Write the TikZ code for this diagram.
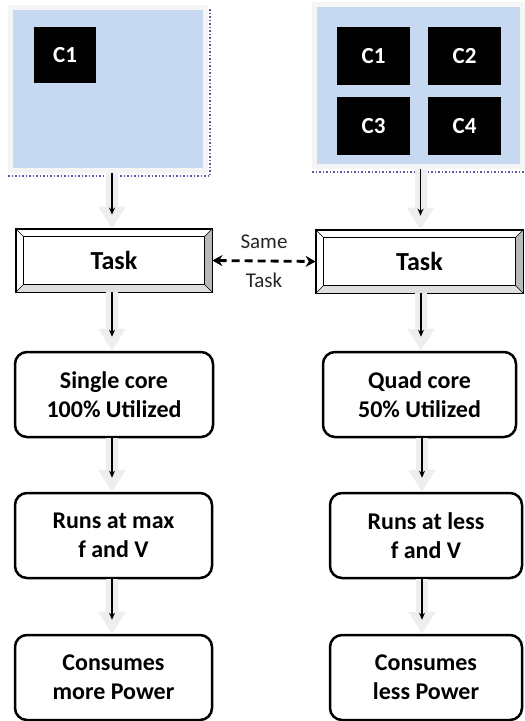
\documentclass[tikz,border=0pt]{standalone}
\usepackage{fontspec}
\setmainfont{Carlito}
\usetikzlibrary{arrows.meta}

\definecolor{chipblue}{RGB}{198,217,240}
\definecolor{arrowgray}{RGB}{238,238,238}

\tikzset{
  chip/.style={fill=chipblue, draw=gray!8, line width=5pt, inner sep=0pt},
  core/.style={fill=black, text=white, inner sep=0pt, font=\fontsize{23}{28}\selectfont\bfseries},
  taskbox/.style={draw=black, line width=0.8pt, minimum width=196pt, minimum height=63pt, inner sep=0pt, font=\fontsize{26}{30}\selectfont\bfseries},
  stepbox/.style={draw=black, line width=2.5pt, rounded corners=12pt, minimum height=85pt, align=center, inner sep=0pt, font=\fontsize{24}{29}\selectfont\bfseries},
  flow/.style={line width=12pt, draw=arrowgray, -{Triangle[width=26pt,length=22pt]},
    postaction={draw=black, line width=1.3pt, -{Stealth[length=7pt,width=6pt]}, shorten >=14pt}}
}

\begin{document}
\begin{tikzpicture}[x=1pt,y=-1pt]
\useasboundingbox (0,0) rectangle (525,721);

% processors
\node[chip, minimum width=195pt, minimum height=163pt] (chipL) at (108,89) {};
\node[chip, minimum width=208pt, minimum height=162pt] (chipR) at (418.5,85.5) {};
\draw[gray!70!blue, dotted, line width=1.5pt] (8,176) -- (210,176) -- (210,8);
\draw[gray!70!blue, dotted, line width=1.5pt] (312,172) -- (525,172);

\node[core, minimum width=62pt, minimum height=56pt] (c1L) at (65,55) {C1};

\node[core, minimum width=73pt, minimum height=58pt] (c1R) at (373.5,56) {C1};
\node[core, minimum width=73pt, minimum height=58pt] (c2R) at (464.5,56) {C2};
\node[core, minimum width=73pt, minimum height=58pt] (c3R) at (373.5,126) {C3};
\node[core, minimum width=73pt, minimum height=58pt] (c4R) at (464.5,126) {C4};

% task boxes
\node[taskbox] (taskL) at (114,260.5) {Task};
\node[taskbox, minimum width=207pt] (taskR) at (419.5,261.5) {Task};

\fill[gray!55] (taskL.north east) -- (taskL.south east) -- ([shift={(-8pt,8pt)}]taskL.south east) -- ([shift={(-8pt,-8pt)}]taskL.north east) -- cycle;
\fill[gray!25] (taskL.south west) -- (taskL.south east) -- ([shift={(-8pt,8pt)}]taskL.south east) -- ([shift={(8pt,8pt)}]taskL.south west) -- cycle;
\draw[line width=0.8pt] ([shift={(8pt,-8pt)}]taskL.north west) rectangle ([shift={(-8pt,8pt)}]taskL.south east);
\draw[line width=0.6pt] (taskL.north west) -- ++(8,8) (taskL.north east) -- ++(-8,8)
  (taskL.south west) -- ++(8,-8) (taskL.south east) -- ++(-8,-8);
\draw[line width=1.4pt] (taskL.north west) rectangle (taskL.south east);

\fill[gray!55] (taskR.north east) -- (taskR.south east) -- ([shift={(-8pt,8pt)}]taskR.south east) -- ([shift={(-8pt,-8pt)}]taskR.north east) -- cycle;
\fill[gray!25] (taskR.south west) -- (taskR.south east) -- ([shift={(-8pt,8pt)}]taskR.south east) -- ([shift={(8pt,8pt)}]taskR.south west) -- cycle;
\draw[line width=0.8pt] ([shift={(8pt,-8pt)}]taskR.north west) rectangle ([shift={(-8pt,8pt)}]taskR.south east);
\draw[line width=0.6pt] (taskR.north west) -- ++(8,8) (taskR.north east) -- ++(-8,8)
  (taskR.south west) -- ++(8,-8) (taskR.south east) -- ++(-8,-8);
\draw[line width=1.4pt] (taskR.north west) rectangle (taskR.south east);

\draw[dashed, dash pattern=on 8pt off 5pt, line width=2.8pt, {Stealth[length=10pt,width=11pt]}-{Stealth[length=10pt,width=11pt]}] (taskL.east) -- (taskR.west)
  node[midway, above=8pt, font=\fontsize{21}{24}\selectfont, text=black!85] (same) {Same}
  node[midway, below=7pt, font=\fontsize{21}{24}\selectfont, text=black!85] (sametask) {Task};

% single core side
\node[stepbox, minimum width=198pt] (utilL) at (114,394.5) {Single core\\100\% Utilized};
\node[stepbox, minimum width=197pt] (freqL) at (113.5,535.5) {Runs at max\\f and V};
\node[stepbox, minimum width=197pt] (powerL) at (113.5,677.5) {Consumes\\more Power};

% quad core side
\node[stepbox, minimum width=193pt] (utilR) at (419.5,394.5) {Quad core\\50\% Utilized};
\node[stepbox, minimum width=192pt] (freqR) at (426,535.5) {Runs at less\\f and V};
\node[stepbox, minimum width=192pt] (powerR) at (426,677.5) {Consumes\\less Power};

% arrows
\draw[flow] ([xshift=4pt]chipL.south) -- ([xshift=4pt]chipL.south |- taskL.north);
\draw[flow] ([xshift=-2pt]taskL.south) -- ([xshift=-2pt]taskL.south |- utilL.north);
\draw[flow] ([xshift=-2pt]utilL.south) -- ([xshift=-2pt]utilL.south |- freqL.north);
\draw[flow] ([xshift=-1.5pt]freqL.south) -- ([xshift=-1.5pt]freqL.south |- powerL.north);

\draw[flow] ([xshift=2pt]chipR.south) -- ([xshift=2pt]chipR.south |- taskR.north);
\draw[flow] ([xshift=1.5pt]taskR.south) -- ([xshift=1.5pt]taskR.south |- utilR.north);
\draw[flow] ([xshift=2.5pt]utilR.south) -- ([xshift=2.5pt]utilR.south |- freqR.north);
\draw[flow] ([xshift=-4pt]freqR.south) -- ([xshift=-4pt]freqR.south |- powerR.north);

\end{tikzpicture}
\end{document}
